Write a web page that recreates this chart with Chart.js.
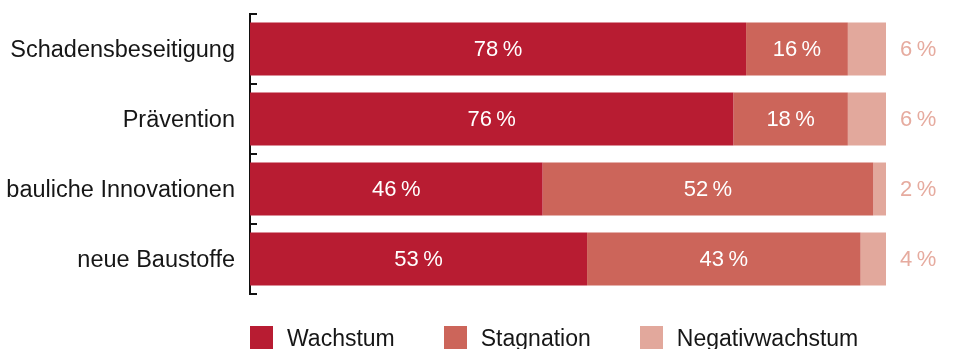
<!DOCTYPE html>
<html lang="de">
<head>
<meta charset="utf-8">
<title>Wachstumserwartung</title>
<script src="https://cdn.jsdelivr.net/npm/chart.js@4.4.1/dist/chart.umd.min.js"></script>
<style>
    html, body {
        margin: 0;
        padding: 0;
        background: #ffffff;
    }
    #wrap {
        position: relative;
        width: 954px;
        height: 349px;
        overflow: hidden;
        font-family: "Liberation Sans", Arial, sans-serif;
    }
    #legend {
        position: absolute;
        left: 250px;
        top: 326px;
        display: flex;
        align-items: flex-start;
    }
    .item {
        display: flex;
        align-items: flex-start;
        margin-right: 49px;
    }
    .box {
        width: 23px;
        height: 23px;
        margin-right: 14px;
    }
    .text {
        font-size: 23px;
        line-height: 23px;
        color: #161616;
        position: relative;
        top: 1px;
    }
</style>
</head>
<body>
<div id="wrap">
    <canvas id="growthChart" width="954" height="349"></canvas>
    <div id="legend"></div>
</div>
<script>
const categories = ['Schadensbeseitigung', 'Prävention', 'bauliche Innovationen', 'neue Baustoffe'];
const seriesNames = ['Wachstum', 'Stagnation', 'Negativwachstum'];
const wachstum = [78, 76, 46, 53];
const stagnation = [16, 18, 52, 43];
const negativ = [6, 6, 2, 4];

const seriesColors = ['#b81c32', '#cc655a', '#e2a89c'];
const outsideLabelColor = '#e6ab9f';
const labelFont = '22px "Liberation Sans", Arial, sans-serif';

// Prozentwerte in die Balken schreiben, den letzten Wert rechts daneben
const valueLabels = {
    id: 'valueLabels',
    afterDatasetsDraw(chart) {
        const ctx = chart.ctx;
        ctx.save();
        ctx.font = labelFont;
        ctx.textBaseline = 'middle';
        chart.data.datasets.forEach(function (dataset, i) {
            const meta = chart.getDatasetMeta(i);
            meta.data.forEach(function (bar, j) {
                const text = dataset.data[j] + '\u2009%';
                if (i < 2) {
                    ctx.fillStyle = '#ffffff';
                    ctx.textAlign = 'center';
                    ctx.fillText(text, (bar.x + bar.base) / 2, bar.y + 1);
                } else {
                    ctx.fillStyle = outsideLabelColor;
                    ctx.textAlign = 'left';
                    ctx.fillText(text, chart.chartArea.right + 14, bar.y + 1);
                }
            });
        });
        ctx.restore();
    }
};

const chartData = {
    labels: categories,
    datasets: [
        { label: seriesNames[0], data: wachstum, backgroundColor: seriesColors[0] },
        { label: seriesNames[1], data: stagnation, backgroundColor: seriesColors[1] },
        { label: seriesNames[2], data: negativ, backgroundColor: seriesColors[2] }
    ]
};

const ctx = document.getElementById('growthChart').getContext('2d');
const growthChart = new Chart(ctx, {
    type: 'bar',
    data: chartData,
    plugins: [valueLabels],
    options: {
        indexAxis: 'y',
        responsive: false,
        devicePixelRatio: 1,
        animation: false,
        barPercentage: 0.757,
        categoryPercentage: 1,
        layout: {
            padding: { top: 14, right: 68, bottom: 55, left: 0 }
        },
        plugins: {
            legend: { display: false },
            tooltip: { enabled: false }
        },
        scales: {
            x: {
                stacked: true,
                min: 0,
                max: 100,
                display: false
            },
            y: {
                stacked: true,
                grid: {
                    offset: true,
                    drawOnChartArea: false,
                    tickLength: -7,
                    color: '#111111',
                    lineWidth: 2
                },
                border: {
                    display: true,
                    color: '#111111',
                    width: 2
                },
                ticks: {
                    color: '#161616',
                    padding: 22,
                    labelOffset: 2,
                    font: { family: '"Liberation Sans", Arial, sans-serif', size: 23.5 }
                },
                afterFit(scale) {
                    scale.width = 250;
                    scale.paddingTop = 0;
                    scale.paddingBottom = 0;
                }
            }
        }
    }
});

// Legende unter dem Diagramm
const legend = document.getElementById('legend');
seriesNames.forEach(function (name, i) {
    const item = document.createElement('div');
    item.className = 'item';
    const box = document.createElement('div');
    box.className = 'box';
    box.style.background = seriesColors[i];
    const text = document.createElement('span');
    text.className = 'text';
    text.textContent = name;
    item.appendChild(box);
    item.appendChild(text);
    legend.appendChild(item);
});
</script>
</body>
</html>
